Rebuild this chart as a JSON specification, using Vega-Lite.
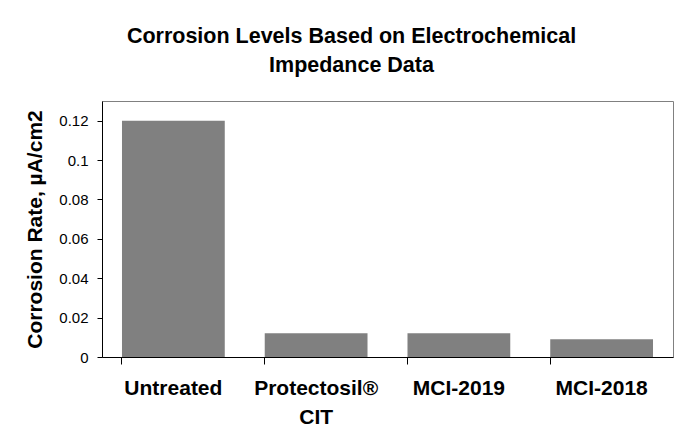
{
  "$schema": "https://vega.github.io/schema/vega-lite/v6.json",
  "autosize": "none",
  "width": 571,
  "height": 256,
  "padding": {"left": 102, "top": 101, "right": 13, "bottom": 74},
  "background": "white",
  "title": {
    "text": ["Corrosion Levels Based on Electrochemical", "Impedance Data"],
    "font": "Liberation Sans",
    "fontSize": 21.5,
    "fontWeight": "bold",
    "color": "black",
    "anchor": "middle",
    "dx": -36,
    "offset": 25,
    "lineHeight": 29
  },
  "data": {
    "values": [
      {"treatment": "Untreated", "rate": 0.12},
      {"treatment": "Protectosil® CIT", "rate": 0.012},
      {"treatment": "MCI-2019", "rate": 0.012},
      {"treatment": "MCI-2018", "rate": 0.009}
    ]
  },
  "mark": {"type": "bar", "color": "#808080"},
  "encoding": {
    "x": {
      "field": "treatment",
      "type": "nominal",
      "sort": null,
      "scale": {"paddingInner": 0.28, "paddingOuter": 0.14},
      "axis": {
        "title": null,
        "labelAngle": 0,
        "labelExpr": "datum.label == 'Protectosil® CIT' ? ['Protectosil®', 'CIT'] : datum.label",
        "labelFont": "Liberation Sans",
        "labelFontSize": 21,
        "labelFontWeight": "bold",
        "labelColor": "black",
        "labelLineHeight": 29,
        "labelPadding": 13,
        "tickSize": 7,
        "tickColor": "black",
        "bandPosition": 0,
        "domainColor": "black",
        "grid": false
      }
    },
    "y": {
      "field": "rate",
      "type": "quantitative",
      "scale": {"domain": [0, 0.13], "nice": false},
      "axis": {
        "title": "Corrosion Rate, µA/cm2",
        "titleFont": "Liberation Sans",
        "titleFontSize": 21,
        "titleFontWeight": "bold",
        "titleColor": "black",
        "titlePadding": 13,
        "values": [0, 0.02, 0.04, 0.06, 0.08, 0.1, 0.12],
        "format": "~g",
        "labelFont": "Liberation Sans",
        "labelFontSize": 15,
        "labelColor": "black",
        "labelPadding": 9,
        "tickSize": 5,
        "tickColor": "black",
        "domainColor": "black",
        "grid": false
      }
    }
  },
  "config": {
    "view": {"stroke": "#808080", "strokeWidth": 1}
  }
}
